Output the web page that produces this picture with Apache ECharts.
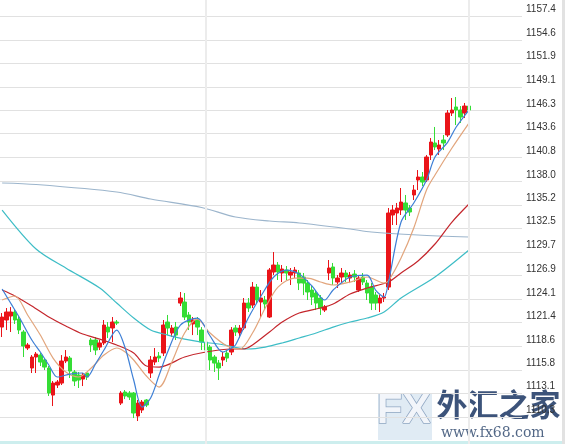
<!DOCTYPE html>
<html><head><meta charset="utf-8">
<script src="https://cdn.jsdelivr.net/npm/echarts@6/dist/echarts.min.js"></script>
<style>html,body{margin:0;padding:0;background:#fff}#c{width:565px;height:444px}</style>
</head><body><div id="c"></div>
<script>
const opens = [1120.87,1121.70,1122.17,1122.64,1121.81,1120.29,1118.41,1116.06,1117.35,1117.58,1117.00,1116.06,1112.88,1114.06,1114.29,1116.88,1117.23,1115.59,1115.23,1114.76,1115.47,1119.35,1119.35,1118.52,1119.00,1120.87,1120.76,1121.46,1111.94,1113.24,1113.12,1113.12,1110.42,1111.12,1112.30,1115.47,1116.76,1117.47,1117.82,1121.46,1120.17,1120.87,1123.69,1123.81,1122.29,1121.23,1121.70,1120.52,1119.11,1118.52,1117.35,1116.64,1117.00,1117.82,1117.94,1120.76,1120.17,1120.76,1123.69,1123.46,1125.57,1123.81,1124.05,1122.05,1127.34,1128.16,1127.22,1127.57,1126.98,1127.22,1127.22,1126.75,1126.04,1125.22,1124.87,1124.28,1122.87,1127.22,1127.93,1126.16,1126.75,1127.22,1126.63,1127.10,1125.22,1126.75,1126.04,1125.57,1124.63,1123.69,1124.28,1125.57,1134.04,1134.27,1134.62,1135.45,1134.86,1136.39,1138.15,1138.50,1138.15,1141.09,1142.50,1141.79,1142.85,1143.44,1146.02,1146.73,1146.37,1146.02,1146.84];
const closes = [1122.05,1122.64,1122.64,1121.70,1120.52,1118.64,1118.76,1117.35,1117.70,1116.76,1116.17,1113.12,1114.29,1114.41,1116.88,1117.35,1115.70,1114.53,1114.65,1115.23,1115.00,1118.76,1118.17,1119.00,1121.11,1120.29,1121.46,1121.34,1113.12,1112.77,1112.65,1110.77,1111.94,1112.06,1111.71,1117.00,1117.35,1117.23,1121.11,1120.76,1120.76,1119.93,1124.28,1122.05,1121.46,1121.70,1120.87,1119.11,1118.17,1117.00,1116.64,1116.06,1117.35,1117.23,1120.52,1120.29,1120.76,1123.69,1123.11,1125.57,1124.05,1124.28,1123.58,1127.57,1128.16,1127.34,1127.69,1127.22,1127.34,1127.57,1126.04,1126.04,1124.99,1124.40,1123.69,1123.11,1123.22,1127.81,1126.63,1126.63,1127.22,1126.75,1126.98,1126.75,1126.63,1126.16,1124.87,1123.69,1123.69,1124.28,1124.40,1134.27,1134.62,1134.86,1135.56,1134.62,1134.39,1136.97,1138.50,1137.91,1140.85,1142.61,1142.03,1142.26,1142.50,1146.02,1146.37,1146.37,1145.55,1146.84,1146.37];
const lows = [1119.70,1120.52,1120.29,1121.23,1120.05,1117.35,1118.17,1115.47,1115.47,1116.29,1115.82,1112.77,1111.59,1113.71,1114.06,1116.64,1114.88,1113.94,1113.71,1113.94,1114.65,1117.94,1117.58,1118.17,1118.76,1119.58,1119.11,1121.11,1111.71,1112.41,1112.30,1110.18,1109.83,1110.77,1111.47,1114.88,1116.41,1116.76,1117.47,1119.93,1119.70,1119.35,1123.34,1121.70,1120.52,1119.93,1119.93,1118.17,1117.58,1115.82,1115.59,1114.65,1116.29,1116.76,1117.58,1119.82,1119.58,1120.52,1122.64,1123.11,1123.58,1121.93,1122.87,1121.93,1126.98,1126.40,1126.16,1126.40,1125.81,1126.63,1125.22,1124.63,1124.05,1123.46,1122.87,1122.29,1122.64,1126.40,1125.81,1125.46,1126.04,1126.16,1126.04,1126.16,1124.99,1125.81,1124.05,1122.87,1122.87,1122.64,1123.81,1125.22,1132.86,1132.86,1134.04,1133.45,1133.92,1135.80,1136.97,1137.44,1137.91,1140.50,1141.67,1141.09,1141.67,1143.20,1145.67,1144.61,1144.85,1145.43,1146.02];
const highs = [1122.52,1123.11,1123.22,1122.99,1122.17,1120.52,1119.00,1117.58,1117.94,1117.82,1117.23,1116.29,1114.53,1114.65,1117.58,1118.17,1117.47,1115.82,1115.59,1115.47,1115.59,1119.58,1119.70,1119.35,1121.70,1121.46,1122.05,1121.70,1113.35,1113.47,1113.35,1113.24,1112.30,1112.30,1112.41,1117.47,1118.41,1117.94,1121.70,1122.29,1121.11,1121.46,1124.99,1124.87,1122.64,1122.05,1122.05,1120.87,1119.58,1118.76,1117.58,1117.00,1117.94,1118.17,1120.87,1121.11,1121.11,1124.28,1124.28,1126.16,1125.93,1125.22,1124.52,1127.81,1129.69,1128.51,1128.16,1128.04,1127.81,1127.93,1127.57,1127.22,1126.40,1125.69,1125.22,1124.63,1123.46,1128.75,1128.40,1126.98,1127.81,1127.57,1127.34,1127.57,1126.98,1127.22,1126.40,1126.04,1124.99,1124.63,1124.87,1134.86,1135.21,1135.45,1137.21,1136.39,1135.21,1137.56,1139.32,1139.09,1141.09,1143.08,1144.38,1142.85,1143.44,1146.37,1147.78,1147.90,1146.84,1147.20,1147.90];

const ma5 = [[0,1125.34],[2,1123.69],[4,1122.05],[7,1119.35],[9,1117.94],[11,1116.41],[13,1115.00],[16,1115.35],[19,1115.47],[20,1115.00],[22,1116.53],[24,1118.17],[27,1120.52],[29,1118.41],[31,1114.65],[33,1111.47],[35,1112.53],[37,1115.23],[39,1117.94],[42,1121.11],[46,1121.93],[49,1119.82],[52,1117.94],[54,1118.41],[55,1118.76],[58,1121.93],[61,1124.52],[64,1126.75],[67,1127.57],[70,1127.10],[73,1125.69],[76,1124.05],[78,1125.22],[82,1126.75],[86,1126.98],[88,1125.22],[90,1124.40],[91,1126.04],[94,1133.21],[97,1135.45],[100,1138.15],[102,1140.85],[105,1142.61],[107,1144.38],[110,1146.37]];
const ma10 = [[0,1124.05],[3,1124.52],[6,1122.29],[9,1119.93],[12,1117.23],[15,1115.59],[18,1115.00],[21,1116.06],[24,1117.58],[27,1118.41],[29,1117.94],[31,1117.00],[34,1115.12],[37,1113.82],[40,1116.76],[43,1120.17],[46,1121.81],[49,1120.17],[53,1118.64],[56,1118.29],[59,1120.17],[62,1123.11],[65,1125.57],[69,1126.63],[72,1126.63],[75,1126.16],[78,1125.81],[82,1126.16],[86,1126.75],[90,1126.04],[91,1126.28],[94,1128.98],[97,1132.51],[100,1136.97],[102,1138.74],[106,1141.91],[110,1144.84]];
const ma20 = [[0,1125.22],[3,1124.52],[7,1123.34],[11,1122.05],[15,1120.99],[19,1120.05],[23,1119.46],[27,1118.76],[31,1117.82],[34,1116.29],[37,1116.17],[43,1117.35],[48,1117.94],[54,1118.29],[57,1118.29],[59,1118.76],[63,1120.29],[66,1121.46],[70,1122.52],[75,1123.11],[78,1123.58],[82,1124.75],[86,1125.46],[91,1126.16],[94,1127.22],[98,1128.63],[102,1130.63],[106,1133.21],[110,1135.33]];
const ma60 = [[0,1134.62],[8,1130.04],[15,1127.81],[23,1125.46],[27,1123.69],[31,1121.93],[35,1120.52],[39,1119.93],[43,1119.46],[47,1119.11],[51,1118.88],[58,1118.29],[62,1118.52],[66,1119.00],[70,1119.58],[74,1120.17],[78,1120.87],[82,1121.46],[86,1121.93],[90,1122.64],[94,1124.28],[102,1126.75],[110,1129.92]];
const ma120 = [[0,1137.80],[8,1137.62],[27,1136.74],[35,1135.92],[47,1134.92],[55,1133.80],[63,1133.33],[70,1133.10],[82,1132.39],[87,1132.04],[98,1131.69],[110,1131.45]];

const yTicks = [1157.4,1154.6,1151.9,1149.1,1146.3,1143.6,1140.8,1138.0,1135.2,1132.5,1129.7,1126.9,1124.1,1121.4,1118.6,1115.8,1113.1,1110.3];
const separators = [48, 110];
const slotCount = 123;

const categories = [];
for (let i = 0; i < slotCount; i++) categories.push(String(i));
const candles = opens.map((o, i) => [o, closes[i], lows[i], highs[i]]);

const chart = echarts.init(document.getElementById('c'), null, {renderer: 'canvas'});
const maLine = (name, data, color) => ({
  name, type: 'line', data, smooth: 0.3, showSymbol: false, symbol: 'none', z: 3,
  lineStyle: {color, width: 1.2}, silent: true, animation: false
});
chart.setOption({
  animation: false,
  backgroundColor: '#ffffff',
  grid: {left: 0, top: 0, width: 522, height: 444},
  xAxis: {type: 'category', data: categories, boundaryGap: true,
    axisLine: {show: false}, axisTick: {show: false}, axisLabel: {show: false}, splitLine: {show: false}},
  yAxis: {type: 'value', position: 'right', min: 1107.13, max: 1159.30, scale: true,
    axisLine: {show: false},
    axisTick: {show: false, customValues: yTicks},
    splitLine: {show: true, lineStyle: {color: '#e1e1e1', width: 1}},
    axisLabel: {customValues: yTicks, formatter: v => v.toFixed(1), color: '#333', fontSize: 10,
      fontFamily: 'Liberation Sans, Arial, sans-serif', margin: 4, verticalAlign: 'bottom', lineHeight: 13}
  },
  series: [
    {type: 'line', data: [], z: 1, silent: true,
      markLine: {silent: true, symbol: ['none','none'], label: {show: false},
        lineStyle: {color: '#ececec', width: 2, type: 'solid'},
        data: separators.map(s => ({xAxis: s}))}},
    maLine('MA120', ma120, '#9cb5cc'),
    maLine('MA60', ma60, '#3dbdc6'),
    {type: 'candlestick', data: candles, barWidth: 4, z: 2,
      itemStyle: {color: '#ea1419', color0: '#35dd35', borderColor: '#ea1419', borderColor0: '#35dd35', borderWidth: 1}},
    maLine('MA20', ma20, '#c4262c'),
    maLine('MA10', ma10, '#e2a57c'),
    maLine('MA5', ma5, '#3d7fd6')
  ],
  graphic: [
    {type: 'rect', left: 0, top: 441, shape: {width: 565, height: 3}, style: {fill: '#cdeeee'}},
    {type: 'rect', left: 562, top: 0, shape: {width: 3, height: 444}, style: {fill: '#e2e2e2'}},
    {type: 'rect', left: 378, top: 394, shape: {width: 54, height: 46}, style: {fill: '#d8e6f1', opacity: 0.8}},
    {type: 'text', left: 376, top: 390, style: {text: 'FX', font: 'bold 42px "Liberation Sans", Arial', fill: '#f2f5fa', stroke: '#8fa6c2', lineWidth: 1.5}},
    {type: 'text', left: 436, top: 388, style: {text: '外汇之家', font: 'bold 31px "Noto Sans CJK SC"', fill: '#27406b', stroke: '#ffffff', lineWidth: 1, opacity: 0.9}},
    {type: 'text', left: 441, top: 426, style: {text: 'www.fx68.com', font: '14px "DejaVu Serif", serif', fill: '#3f5679', opacity: 0.9}}
  ]
});
</script></body></html>
